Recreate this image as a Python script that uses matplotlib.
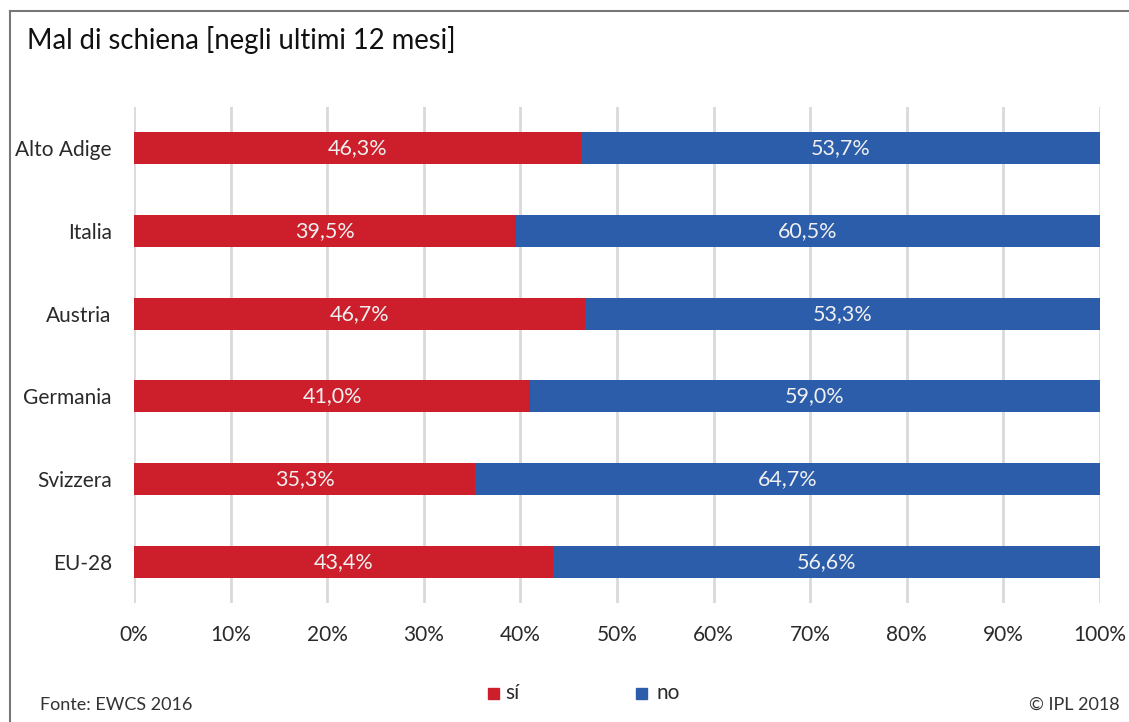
import matplotlib.pyplot as plt
from matplotlib.patches import Rectangle
from matplotlib.lines import Line2D

plt.rcParams['font.family'] = ['Lato', 'DejaVu Sans']

countries = ["Alto Adige", "Italia", "Austria", "Germania", "Svizzera", "EU-28"]
si = [46.3, 39.5, 46.7, 41.0, 35.3, 43.4]
no = [53.7, 60.5, 53.3, 59.0, 64.7, 56.6]

red = "#cc1f2b"
blue = "#2b5daa"

fig = plt.figure(figsize=(11.29, 7.22), dpi=100)
ax = fig.add_axes([134 / 1129, 1 - 603 / 722, (1100 - 134) / 1129, (603 - 107) / 722])

y = list(range(len(countries)))
ax.barh(y, si, height=0.39, color=red, zorder=3)
ax.barh(y, no, left=si, height=0.39, color=blue, zorder=3)

for i in y:
    ax.text(si[i] / 2, i, f"{si[i]:.1f}%".replace(".", ","), color="#f0f0f0",
            ha="center", va="center", fontsize=15.5, zorder=4)
    ax.text(si[i] + no[i] / 2, i, f"{no[i]:.1f}%".replace(".", ","), color="#f0f0f0",
            ha="center", va="center", fontsize=15.5, zorder=4)

ax.set_xlim(0, 100)
ax.set_ylim(5.5, -0.5)
ax.set_yticks(y)
ax.set_yticklabels(countries, fontsize=15, color="#2a2a2a")
ax.set_xticks(range(0, 101, 10))
ax.set_xticklabels([f"{v}%" for v in range(0, 101, 10)], fontsize=15, color="#2a2a2a")
ax.tick_params(length=0, pad=16, axis="y")
ax.tick_params(length=0, pad=16, axis="x")
ax.grid(axis="x", color="#d9d9d9", linewidth=2, zorder=0)
for s in ax.spines.values():
    s.set_visible(False)

# frame
fig.add_artist(Line2D([10 / 1129, 10 / 1129], [0, 1 - 11 / 722], color="#777777", lw=1.5))
fig.add_artist(Line2D([10 / 1129, 1], [1 - 11 / 722, 1 - 11 / 722], color="#777777", lw=1.5))

fig.text(27 / 1129, 1 - 40 / 722, "Mal di schiena [negli ultimi 12 mesi]", fontsize=19.8,
         va="center", ha="left", color="#111111")

# legend
fig.add_artist(Rectangle((488 / 1129, 1 - 699 / 722), 11 / 1129, 11 / 722, color=red))
fig.text(505 / 1129, 1 - 693 / 722, "sí", fontsize=15, va="center", ha="left", color="#2a2a2a")
fig.add_artist(Rectangle((636 / 1129, 1 - 699 / 722), 11 / 1129, 11 / 722, color=blue))
fig.text(657 / 1129, 1 - 693 / 722, "no", fontsize=15, va="center", ha="left", color="#2a2a2a")

fig.text(40 / 1129, 1 - 705 / 722, "Fonte: EWCS 2016", fontsize=13, va="center", ha="left", color="#333333")
fig.text(1120 / 1129, 1 - 705 / 722, "© IPL 2018", fontsize=13, va="center", ha="right", color="#333333")

fig.savefig("out.png", dpi=100)
